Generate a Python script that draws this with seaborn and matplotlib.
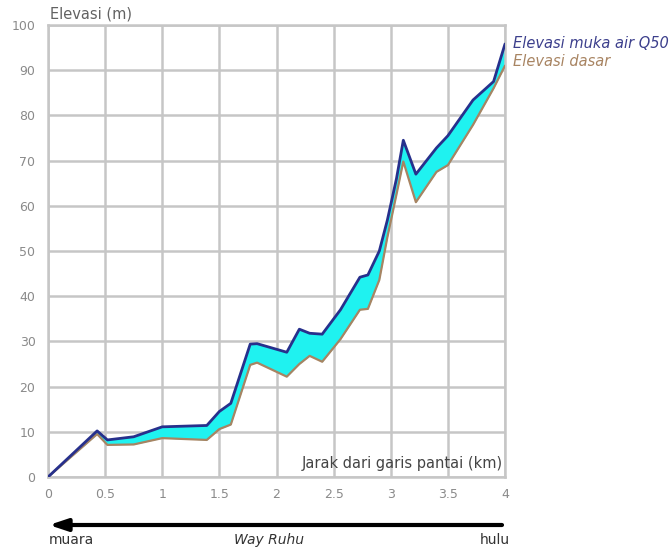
import matplotlib
matplotlib.use("Agg")
import matplotlib.pyplot as plt
import seaborn as sns

# Longitudinal profile of Way Ruhu: distance from the coastline (km)
jarak_km = [0.0, 0.43, 0.52, 0.75, 1.0, 1.39, 1.5, 1.6, 1.77, 1.83, 2.09, 2.2,
            2.29, 2.4, 2.56, 2.73, 2.8, 2.9, 2.97, 3.05, 3.11, 3.22, 3.4, 3.5,
            3.72, 3.9, 4.0]
# Water surface elevation for the Q50 flood (m)
muka_air_q50 = [0.0, 10.2, 8.2, 8.9, 11.1, 11.4, 14.5, 16.3, 29.4, 29.5, 27.6,
                32.7, 31.8, 31.6, 37.0, 44.2, 44.7, 50.0, 56.8, 66.0, 74.5,
                67.0, 72.8, 75.5, 83.4, 87.5, 95.8]
# Channel bed elevation (m)
elevasi_dasar = [0.0, 9.5, 7.1, 7.2, 8.6, 8.2, 10.6, 11.6, 24.8, 25.3, 22.2,
                 25.0, 26.8, 25.5, 30.5, 37.0, 37.2, 43.6, 53.0, 62.5, 69.8,
                 60.8, 67.5, 69.0, 77.9, 86.0, 91.0]

x_ticks = [0, 0.5, 1, 1.5, 2, 2.5, 3, 3.5, 4]
x_tick_labels = ["0", "0.5", "1", "1.5", "2", "2.5", "3", "3.5", "4"]
y_ticks = [0, 10, 20, 30, 40, 50, 60, 70, 80, 90, 100]

sns.set_theme(style="white")
plt.rcParams["font.family"] = ["DejaVu Sans"]

grid_col = "#c6c6c6"
tick_col = "#8a8a8a"

fig = plt.figure(figsize=(6.69, 5.48), dpi=100)
W, H = 669, 548
ax = fig.add_axes([48 / W, 1 - 477 / H, (505 - 48) / W, (477 - 25) / H])

ax.fill_between(jarak_km, elevasi_dasar, muka_air_q50, color="#1ff2f0",
                linewidth=0, zorder=2)
sns.lineplot(x=jarak_km, y=elevasi_dasar, ax=ax, color="#a88462",
             linewidth=1.6, zorder=3)
sns.lineplot(x=jarak_km, y=muka_air_q50, ax=ax, color="#27308c",
             linewidth=2.0, zorder=4)

ax.set_xlim(0, 4)
ax.set_ylim(0, 100)
ax.set_xticks(x_ticks)
ax.set_xticklabels(x_tick_labels)
ax.set_yticks(y_ticks)
ax.grid(True, color=grid_col, linewidth=1.8, zorder=0)
ax.set_axisbelow(True)
for sp in ax.spines.values():
    sp.set_color(grid_col)
    sp.set_linewidth(1.8)
ax.tick_params(axis="x", length=4, width=1.5, color=grid_col, colors=tick_col,
               labelsize=9, pad=4)
ax.tick_params(axis="y", length=0, colors=tick_col, labelsize=9, pad=9)
ax.set_xlabel("")
ax.set_ylabel("")

ax.text(3.98, 3.0, "Jarak dari garis pantai (km)", ha="right", va="center",
        fontsize=10.5, color="#444444", zorder=5)

fig.text(50 / W, 1 - 14 / H, "Elevasi (m)", ha="left", va="center",
         fontsize=10.5, color="#626262")
fig.text(513 / W, 1 - 43 / H, "Elevasi muka air Q50", ha="left", va="center",
         fontsize=10.5, style="italic", color="#3c3f8c")
fig.text(513 / W, 1 - 62 / H, "Elevasi dasar", ha="left", va="center",
         fontsize=10.5, style="italic", color="#a88462")

# Flow direction arrow beneath the profile
ax.annotate("", xy=(49, H - 525), xycoords="figure pixels",
            xytext=(502, H - 525), textcoords="figure pixels",
            arrowprops=dict(arrowstyle="-|>,head_length=0.9,head_width=0.3",
                            color="black", linewidth=3, shrinkA=0, shrinkB=0))
fig.text(49 / W, 1 - 540 / H, "muara", ha="left", va="center", fontsize=10,
         color="#333333")
fig.text(269 / W, 1 - 540 / H, "Way Ruhu", ha="center", va="center",
         fontsize=10, style="italic", color="#333333")
fig.text(510 / W, 1 - 540 / H, "hulu", ha="right", va="center", fontsize=10,
         color="#333333")

fig.savefig("out.png", dpi=100)
